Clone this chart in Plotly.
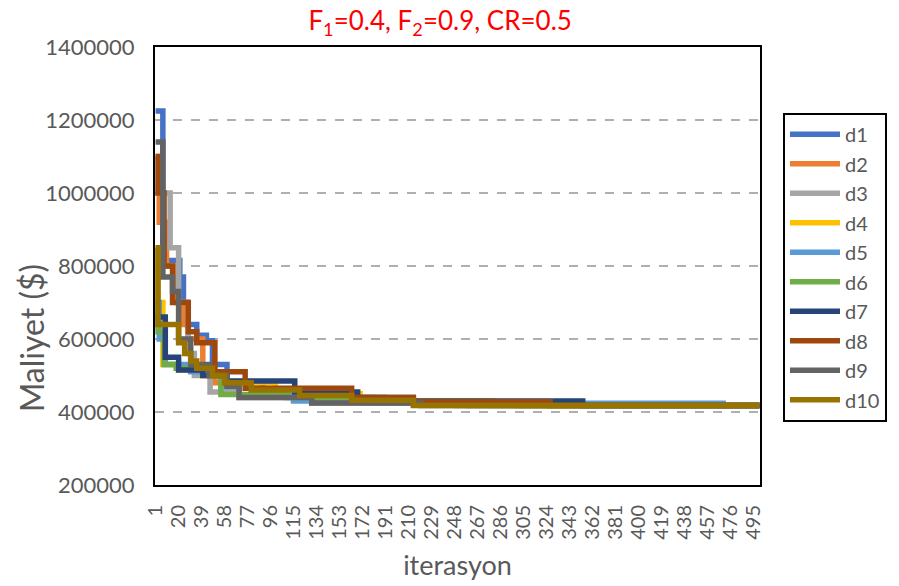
import plotly.graph_objects as go

# Step breakpoints (iteration, cost) for each run
names = ["d1", "d2", "d3", "d4", "d5", "d6", "d7", "d8", "d9", "d10"]
colors = ["#4472C4", "#ED7D31", "#A5A5A5", "#FFC000", "#5B9BD5",
          "#70AD47", "#264478", "#9E480E", "#636363", "#997300"]

d1_it = [1, 7, 21, 24, 27, 35, 43, 48, 60, 90, 115, 190, 304]
d1_v = [1225000, 815000, 770000, 700000, 640000, 610000, 595000, 530000, 480000, 460000, 440000, 425000, 418000]

d2_it = [1, 4, 10, 18, 24, 28, 40, 50, 70, 115, 170, 300]
d2_v = [1100000, 920000, 800000, 700000, 640000, 600000, 510000, 480000, 445000, 435000, 425000, 418000]

d3_it = [1, 8, 13, 20, 28, 33, 46, 70, 130, 250]
d3_v = [1000000, 1000000, 850000, 700000, 560000, 500000, 455000, 440000, 425000, 418000]

d4_it = [1, 3, 7, 20, 40, 60, 100, 170, 280]
d4_v = [850000, 700000, 530000, 515000, 500000, 480000, 450000, 430000, 418000]

d5_it = [1, 4, 9, 30, 55, 70, 115, 200, 470]
d5_v = [700000, 600000, 530000, 510000, 470000, 445000, 430000, 424000, 418000]

d6_it = [1, 3, 8, 18, 45, 55, 110, 180, 260]
d6_v = [690000, 620000, 530000, 520000, 500000, 448000, 440000, 425000, 418000]

d7_it = [1, 9, 20, 40, 60, 116, 168, 214, 354]
d7_v = [660000, 550000, 515000, 500000, 485000, 455000, 440000, 430000, 418000]

d8_it = [1, 3, 8, 15, 28, 35, 50, 75, 163, 214, 327]
d8_v = [1100000, 1000000, 800000, 700000, 620000, 590000, 510000, 465000, 440000, 428000, 418000]

d9_it = [1, 7, 15, 20, 30, 45, 60, 70, 130, 220]
d9_v = [1140000, 770000, 730000, 600000, 530000, 500000, 470000, 440000, 425000, 418000]

d10_it = [1, 3, 20, 25, 30, 35, 48, 58, 80, 120, 163, 214, 500]
d10_v = [850000, 640000, 590000, 560000, 540000, 520000, 500000, 480000, 460000, 445000, 432000, 418000, 418000]

series_it = [d1_it, d2_it, d3_it, d4_it, d5_it, d6_it, d7_it, d8_it, d9_it, d10_it]
series_v = [d1_v, d2_v, d3_v, d4_v, d5_v, d6_v, d7_v, d8_v, d9_v, d10_v]
last_iteration = 500

x_ticks = list(range(1, 501, 19))
y_ticks = [200000, 400000, 600000, 800000, 1000000, 1200000, 1400000]

FONT = "Lato"
GREY = "#595959"

fig = go.Figure()
for n, c, xs, ys in zip(names, colors, series_it, series_v):
    # hold the final value until the last iteration
    xs2 = list(xs) + ([last_iteration] if xs[-1] != last_iteration else [])
    ys2 = list(ys) + ([ys[-1]] if xs[-1] != last_iteration else [])
    fig.add_trace(go.Scatter(x=xs2, y=ys2, name=n, mode="lines", legendgroup=n,
                             line=dict(color=c, width=5.5, shape="hv")))

fig.add_annotation(text="Maliyet ($)", xref="paper", yref="paper",
                   x=-0.205, y=0.337, xanchor="center", yanchor="middle",
                   textangle=-90, showarrow=False,
                   font=dict(family=FONT, size=32, color=GREY))

fig.update_layout(
    width=891, height=578,
    margin=dict(l=147, r=139, t=39, b=101),
    paper_bgcolor="white", plot_bgcolor="white",
    font=dict(family=FONT, color=GREY, size=21),
    title=dict(text="F<sub>1</sub>=0.4, F<sub>2</sub>=0.9, CR=0.5",
               x=0.485, xanchor="center", yref="container", y=1.0, yanchor="top",
               pad=dict(t=4, b=0),
               font=dict(family=FONT, size=26, color="#FF0000")),
    showlegend=True,
    legend=dict(x=1.038, y=0.85, xanchor="left", yanchor="top",
                bordercolor="black", borderwidth=2,
                font=dict(family=FONT, size=20, color=GREY),
                itemwidth=50, tracegroupgap=0.5),
)
fig.update_xaxes(
    range=[0.5, 500.5], tickmode="array", tickvals=x_ticks,
    ticktext=[str(t) for t in x_ticks], tickangle=-90,
    showgrid=False, zeroline=False, automargin=False,
    showline=True, linecolor="black", linewidth=2, mirror=True,
    ticks="", tickfont=dict(size=20), ticklabelstandoff=10,
    title=dict(text="iterasyon", font=dict(size=27, color=GREY), standoff=17),
)
fig.update_yaxes(
    range=[200000, 1400000], tickmode="array", tickvals=y_ticks,
    ticktext=[str(t) for t in y_ticks],
    showgrid=True, gridcolor="#AFAFAF", griddash="dash", gridwidth=1.5,
    zeroline=False, automargin=False,
    showline=True, linecolor="black", linewidth=2, mirror=True,
    ticks="", tickfont=dict(size=22), ticklabelstandoff=14,
)
fig.write_html("out.html")
